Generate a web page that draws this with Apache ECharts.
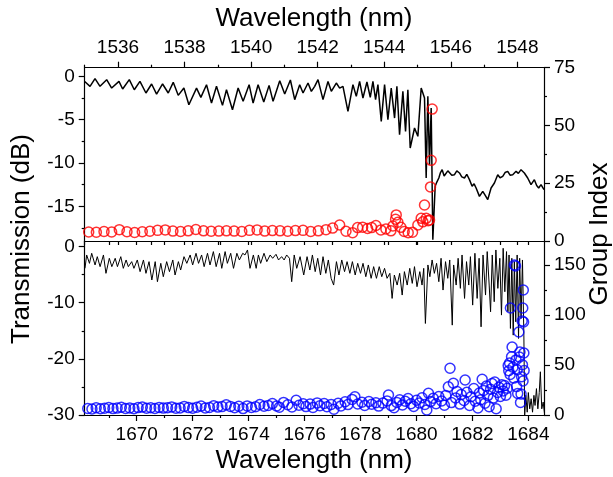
<!DOCTYPE html>
<html><head><meta charset="utf-8">
<script src="https://cdn.jsdelivr.net/npm/echarts@6/dist/echarts.min.js"></script>
<style>html,body{margin:0;padding:0;background:#fff}#c{width:613px;height:477px}</style>
</head><body><div id="c"></div>
<script>
// ---- Top panel: transmission (dB) vs wavelength (nm), 1535-1548.8 nm ----
const topWl = [1535.00,1535.16,1535.31,1535.46,1535.66,1535.81,1536.03,1536.14,1536.34,1536.49,1536.66,1536.84,1537.01,1537.16,1537.34,1537.51,1537.66,1537.81,1537.98,1538.13,1538.36,1538.49,1538.66,1538.81,1538.96,1539.14,1539.26,1539.44,1539.61,1539.76,1539.94,1540.06,1540.21,1540.38,1540.54,1540.66,1540.86,1541.01,1541.18,1541.31,1541.46,
1541.56,1541.71,1541.81,1541.91,1542.01,1542.16,1542.31,1542.41,1542.56,1542.66,1542.76,1542.91,1543.06,1543.16,1543.26,1543.36,1543.48,1543.58,1543.66,1543.74,1543.81,1543.91,1544.01,1544.11,1544.21,1544.31,1544.38,1544.46,1544.56,1544.64,1544.71,1544.78,1544.91,1545.01,1545.11,1545.21,1545.26,1545.31,1545.36,1545.41,1545.46,1545.53,1545.58,1545.64,1545.69,1545.74,1545.80,1545.86,1545.91,1545.96,1546.03,1546.11,1546.18,1546.26,1546.33,1546.41,1546.48,1546.56,1546.64,1546.70,1546.76,1546.86,1546.96,1547.03,1547.11,1547.21,1547.31,1547.41,1547.48,1547.56,1547.63,1547.71,1547.78,1547.86,1547.96,1548.03,1548.11,1548.21,1548.31,1548.41,1548.51,1548.58,1548.64,1548.71,1548.80];
const topTrans = [-0.6,-1.15,-0.27,-1.15,-0.38,-1.35,-0.58,-1.46,-0.38,-1.54,-0.58,-1.92,-0.88,-2.04,-0.88,-1.92,-0.69,-2.19,-1.35,-3.27,-1.35,-2.42,-0.96,-3.08,-1.15,-3.35,-1.54,-3.85,-1.35,-2.88,-0.96,-3.08,-0.96,-2.96,-1.04,-2.88,-0.5,-2.04,-0.42,-2.69,-0.96,
-1.92,-0.77,-1.73,-1.15,-0.38,-2.69,-0.58,-1.73,-0.77,-1.35,-1.15,-4.04,-0.96,-2.31,-0.58,-2.5,-0.65,-2.42,-0.58,-2.69,-0.96,-5.19,-0.96,-5.0,-1.35,-4.81,-1.15,-6.73,-1.73,-6.35,-1.54,-8.27,-5.96,-6.92,-1.35,-2.5,-11.73,-2.31,-10.2,-3.65,-18.85,-12.69,-12.2,-11.73,-11.1,-10.77,-11.5,-11.35,-10.9,-10.96,-11.4,-11.35,-10.9,-11.15,-11.6,-11.73,-11.3,-11.92,-12.69,-12.4,-12.88,-13.85,-13.27,-13.7,-14.23,-12.88,-12.31,-11.35,-11.7,-11.54,-11.1,-10.96,-11.4,-11.35,-10.96,-11.2,-10.77,-11.15,-11.73,-12.5,-11.92,-12.6,-12.88,-12.5,-13.08];
// Top panel: group index (red circles)
const redWl = [1535.12,1535.35,1535.58,1535.81,1536.04,1536.27,1536.50,1536.73,1536.96,1537.19,1537.42,1537.65,1537.88,1538.11,1538.34,1538.57,1538.80,1539.03,1539.26,1539.49,1539.72,1539.95,1540.18,1540.41,1540.64,1540.87,1541.10,1541.33,1541.56,1541.79,1542.02,1542.25,1542.45,1542.66,1542.85,1543.05,1543.20,1543.35,1543.50,1543.62,1543.75,1543.90,1544.05,1544.20,1544.26,1544.34,1544.36,1544.41,1544.50,1544.60,1544.72,1544.85,1545.01,1545.11,1545.16,1545.21,1545.26,1545.32,1545.36,1545.39,1545.41,1545.44];
const redGi = [3.9,3.8,4.1,3.9,4.9,4.0,3.7,4.0,4.2,4.6,4.8,4.3,4.1,4.4,5.0,4.4,4.2,4.3,4.4,4.3,4.1,4.6,4.8,4.3,4.5,4.4,4.2,4.5,4.6,4.1,4.4,4.9,5.6,6.9,4.2,3.6,5.8,6.0,5.4,5.8,6.7,4.8,5.2,4.4,6.5,9.4,11.3,8.1,5.9,4.1,3.6,3.8,6.9,9.8,8.3,15.6,9.8,8.8,9.1,23.4,34.9,57.1];
// ---- Bottom panel: transmission (dB) vs wavelength (nm), 1668.1-1684.6 nm ----
const botWl = [1668.15,1668.21,1668.31,1668.39,1668.51,1668.59,1668.69,1668.81,1668.90,1669.02,1669.11,1669.23,1669.31,1669.43,1669.52,1669.62,1669.70,1669.82,1669.90,1670.02,1670.12,1670.24,1670.33,1670.44,1670.54,1670.66,1670.74,1670.86,1670.95,1671.07,1671.17,1671.29,1671.37,1671.49,1671.57,1671.69,1671.79,1671.91,1672.00,1672.12,1672.21,1672.32,1672.41,1672.53,1672.62,1672.74,1672.84,1672.96,1673.04,1673.16,1673.24,1673.36,1673.46,1673.58,1673.67,1673.79,1673.87,1673.96,1674.05,1674.17,1674.27,1674.35,1674.43,1674.55,1674.65,1674.77,1674.86,1674.98,1675.07,1675.18,1675.27,1675.36,1675.46,1675.54,1675.63,1675.72,1675.84,
1675.97,1676.09,1676.19,1676.28,1676.38,1676.47,1676.57,1676.66,1676.76,1676.85,1676.95,1677.04,1677.14,1677.23,1677.33,1677.43,1677.52,1677.62,1677.71,1677.81,1677.90,1678.00,1678.09,1678.19,1678.28,1678.38,1678.47,1678.57,1678.67,1678.76,1678.86,1678.95,1679.05,1679.13,1679.21,1679.31,1679.40,1679.49,1679.57,1679.67,1679.76,1679.85,1679.93,1680.02,1680.12,1680.20,1680.26,1680.32,1680.41,1680.48,1680.56,1680.64,1680.72,1680.80,1680.88,1680.95,1681.04,1681.12,1681.19,1681.28,1681.33,1681.42,1681.49,1681.57,1681.63,1681.72,1681.79,1681.87,1681.93,1682.01,1682.09,1682.17,1682.24,1682.31,1682.38,1682.47,1682.53,1682.60,1682.65,1682.71,1682.78,1682.84,1682.91,1682.98,1683.04,1683.10,1683.16,1683.22,1683.27,1683.31,1683.36,1683.41,1683.46,1683.50,1683.55,1683.60,1683.65,1683.69,1683.74,1683.79,1683.84,1683.87,1683.91,1683.96,1684.00,1684.05,1684.10,1684.15,1684.20,1684.24,1684.29,1684.34,1684.39,1684.43,1684.48,1684.53,1684.58];
const botTrans = [-3.87,-1.49,-2.98,-1.19,-3.27,-1.79,-3.57,-1.49,-4.76,-2.08,-3.57,-2.08,-3.57,-1.79,-3.87,-2.38,-3.57,-2.68,-3.87,-2.38,-4.46,-2.38,-4.76,-2.68,-5.95,-2.68,-6.25,-2.98,-5.36,-2.68,-4.46,-2.38,-5.06,-2.68,-4.17,-1.79,-2.98,-1.49,-3.27,-1.19,-2.98,-1.49,-3.57,-1.19,-3.27,-0.89,-3.57,-1.19,-3.87,-0.89,-2.98,-1.19,-3.87,-1.19,-2.38,-1.19,-1.49,-0.6,-3.87,-1.49,-3.87,-1.49,-2.98,-1.19,-2.68,-1.49,-2.08,-1.37,-2.38,-1.79,-2.38,-1.49,-2.08,-6.25,-1.49,-3.87,-1.79,
-5.06,-1.79,-4.17,-1.49,-4.46,-2.08,-5.06,-1.79,-4.76,-2.38,-5.65,-6.85,-2.68,-5.06,-2.38,-4.46,-2.68,-4.76,-2.68,-5.06,-2.98,-4.76,-2.98,-5.36,-3.27,-5.65,-3.57,-5.65,-3.57,-5.36,-3.87,-5.65,-4.76,-9.23,-5.06,-6.85,-4.76,-8.63,-4.46,-6.85,-3.87,-6.55,-3.57,-7.14,-4.46,-6.85,-3.87,-13.69,-3.27,-5.36,-2.38,-4.76,-2.98,-6.25,-2.08,-7.74,-2.68,-5.65,-2.38,-13.99,-3.27,-6.85,-2.08,-7.44,-1.49,-9.23,-2.68,-6.85,-1.79,-10.42,-1.19,-9.23,-2.08,-14.29,-1.49,-8.63,-0.89,-6.85,-11.61,-1.49,-9.82,-0.6,-7.44,-2.08,-12.2,-0.3,-8.04,-0.89,-11.61,-1.49,-14.58,-2.08,-15.77,-2.68,-13.39,-1.49,-16.37,-2.08,-12.8,-2.38,-15.77,-30,-26.5,-29.5,-26.0,-28.9,-27.1,-29.5,-26.5,-28.3,-25.3,-28.9,-26.0,-22.3,-28.9,-27.7,-29.8];
// Bottom panel: group index (blue circles)
const blueWl = [1668.25,1668.40,1668.55,1668.70,1668.85,1669.00,1669.15,1669.30,1669.45,1669.60,1669.75,1669.90,1670.05,1670.20,1670.35,1670.50,1670.65,1670.80,1670.95,1671.10,1671.25,1671.40,1671.55,1671.70,1671.85,1672.00,1672.15,1672.30,1672.45,1672.60,1672.75,1672.90,1673.05,1673.20,1673.35,1673.50,1673.65,1673.80,1673.95,1674.10,1674.25,1674.40,1674.55,1674.70,1674.85,1675.00,1675.10,1675.25,1675.40,1675.55,1675.70,1675.80,1675.95,1676.05,1676.20,1676.30,1676.45,1676.55,1676.70,1676.80,1676.95,1677.05,1677.20,1677.30,1677.45,1677.55,1677.70,1677.80,1677.90,1678.05,1678.15,1678.30,1678.40,1678.55,1678.65,1678.80,1678.95,1679.00,1679.10,1679.20,1679.30,1679.40,1679.50,1679.60,1679.70,1679.80,1679.90,1680.00,1680.10,1680.20,1680.30,1680.37,1680.43,1680.50,1680.60,1680.70,1680.80,1680.90,1681.00,1681.05,1681.14,1681.20,1681.25,1681.32,1681.40,1681.45,1681.55,1681.60,1681.70,1681.74,1681.80,1681.90,1681.95,1682.05,1682.10,1682.20,1682.25,1682.30,1682.35,1682.40,1682.45,1682.50,1682.55,1682.60,1682.65,1682.70,1682.75,1682.80,1682.85,1682.90,1682.95,1683.00,1683.05,1683.10,1683.15,1683.20,1683.25,1683.28,1683.30,1683.33,1683.35,1683.36,1683.40,1683.42,1683.45,1683.48,1683.50,1683.54,1683.56,1683.58,1683.60,1683.62,1683.66,1683.68,1683.70,1683.72,1683.74,1683.76,1683.78,1683.80,1683.82,1683.83,1683.84,1683.85,1683.81,1683.79];
const blueGi = [6.5,6.0,7.2,6.3,6.8,7.5,6.4,6.9,7.8,6.6,7.0,6.2,7.4,7.9,6.8,7.2,6.5,7.6,6.9,7.3,8.1,6.7,7.0,8.6,7.4,6.8,7.7,8.9,7.1,7.5,9.3,7.9,8.4,10.2,8.6,7.2,8.8,6.4,9.1,7.6,8.3,10.5,8.7,9.6,11.4,9.0,7.8,12.6,10.3,8.1,14.8,9.7,11.2,8.4,10.9,7.6,12.1,9.3,11.5,8.2,10.6,5.8,11.8,9.1,13.2,10.4,15.6,18.3,11.0,12.7,9.6,13.5,10.8,12.2,8.9,11.9,14.1,20.0,9.4,7.3,12.6,15.2,10.1,13.8,16.4,11.3,8.6,14.7,12.0,17.3,10.5,5.0,21.7,13.4,16.8,11.2,18.5,14.0,9.8,19.6,28.3,46.7,12.4,31.7,17.1,23.5,10.9,20.4,14.6,35.0,22.8,9.5,18.2,26.4,13.7,7.1,21.9,15.3,35.7,24.6,11.8,28.9,19.4,8.2,25.7,31.4,16.9,33.0,6.3,22.5,27.8,18.6,30.2,24.1,29.5,19.8,26.7,49.5,44.2,52.0,40.6,107,58.3,68.0,47.8,36.9,150,149,55.1,28.4,45.3,21.6,83.0,57.9,63.0,12.5,20.9,38.2,94,107,125,93,62,44.5,34.0,50.3];
// ---- Tick values ----
const topXTicks = [1536,1538,1540,1542,1544,1546,1548];
const topXMinor = [1535,1537,1539,1541,1543,1545,1547];
const topXAll = [1535,1536,1537,1538,1539,1540,1541,1542,1543,1544,1545,1546,1547,1548];
const botXTicks = [1670,1672,1674,1676,1678,1680,1682,1684];
const botXMinor = [1669,1671,1673,1675,1677,1679,1681,1683];
const botXAll = [1669,1670,1671,1672,1673,1674,1675,1676,1677,1678,1679,1680,1681,1682,1683,1684];
const topLeftTicks = [-15,-10,-5,0];
const topLeftMinor = [-17.5,-12.5,-7.5,-2.5];
const topRightTicks = [0,25,50,75];
const topRightMinor = [12.5,37.5,62.5];
const botLeftTicks = [-30,-20,-10,0];
const botLeftMinor = [-25,-15,-5];
const botRightTicks = [0,50,100,150];
const botRightMinor = [25,75,125];

const FONT = '"Liberation Sans", Arial, sans-serif';
function pairs(xs, ys){ return xs.map((x,i)=>[x, ys[i]]); }
function axis(gridIndex, position, min, max, vals, len, showLabels, showLine, inside){
  return {
    type:'value', gridIndex:gridIndex, position:position, min:min, max:max,
    axisLine:{show:showLine, onZero:false, lineStyle:{color:'#000', width:1.2}},
    axisTick:{show:true, inside:!!inside, length:len, customValues:vals, lineStyle:{color:'#000', width:1.2}},
    axisLabel:{show:showLabels, customValues:vals, margin:10, color:'#000', fontSize:19, fontFamily:FONT,
      formatter:function(v){ return String(v); }},
    splitLine:{show:false}, minorTick:{show:false}, minorSplitLine:{show:false}
  };
}
const chart = echarts.init(document.getElementById('c'));
const TITLE_FONT = '26px "Liberation Sans", Arial';
function title(text, x, y, rot){
  return {type:'text', x:x, y:y, rotation:rot||0,
    style:{text:text, font:TITLE_FONT, fill:'#000', textAlign:'center', textVerticalAlign:'middle', align:'center', verticalAlign:'middle'}};
}
chart.setOption({
  animation:false,
  backgroundColor:'#fff',
  grid:[
    {left:84.7, top:67.7, width:459.3, height:173.3},
    {left:84.7, top:241, width:459.3, height:174}
  ],
  xAxis:[
    axis(0,'top',1535,1548.8,topXTicks,6,true,true),
    axis(0,'top',1535,1548.8,topXMinor,3,false,false),
    axis(0,'bottom',1535,1548.8,topXAll,4,false,true),
    axis(1,'bottom',1668.14,1684.56,botXTicks,6,true,true),
    axis(1,'bottom',1668.14,1684.56,botXMinor,3,false,false),
    axis(1,'top',1668.14,1684.56,botXAll,4,false,true,true)
  ],
  yAxis:[
    axis(0,'left',-19,1,topLeftTicks,6,true,true),
    axis(0,'left',-19,1,topLeftMinor,3,false,false),
    axis(0,'right',0,75,topRightTicks,6,true,true),
    axis(0,'right',0,75,topRightMinor,3,false,false),
    axis(1,'left',-30,1,botLeftTicks,6,true,true),
    axis(1,'left',-30,1,botLeftMinor,3,false,false),
    axis(1,'right',0,174,botRightTicks,6,true,true),
    axis(1,'right',0,174,botRightMinor,3,false,false)
  ],
  series:[
    {type:'line', xAxisIndex:0, yAxisIndex:0, data:pairs(topWl, topTrans), symbol:'none', lineStyle:{color:'#000', width:1.5}, z:2},
    {type:'scatter', xAxisIndex:0, yAxisIndex:2, data:pairs(redWl, redGi), symbol:'circle', symbolSize:10,
      itemStyle:{color:'rgba(0,0,0,0)', borderColor:'#ff0000', borderWidth:1.5}, z:3},
    {type:'line', xAxisIndex:3, yAxisIndex:4, data:pairs(botWl, botTrans), symbol:'none', lineStyle:{color:'#000', width:1}, z:2},
    {type:'scatter', xAxisIndex:3, yAxisIndex:6, data:pairs(blueWl, blueGi), symbol:'circle', symbolSize:10,
      itemStyle:{color:'rgba(0,0,0,0)', borderColor:'#0000ff', borderWidth:1.5}, z:3}
  ],
  graphic:[
    title('Wavelength (nm)', 314, 19),
    title('Wavelength (nm)', 314, 461),
    title('Transmission (dB)', 22, 239, Math.PI/2),
    title('Group Index', 600, 234, Math.PI/2)
  ]
});
</script>
</body></html>
